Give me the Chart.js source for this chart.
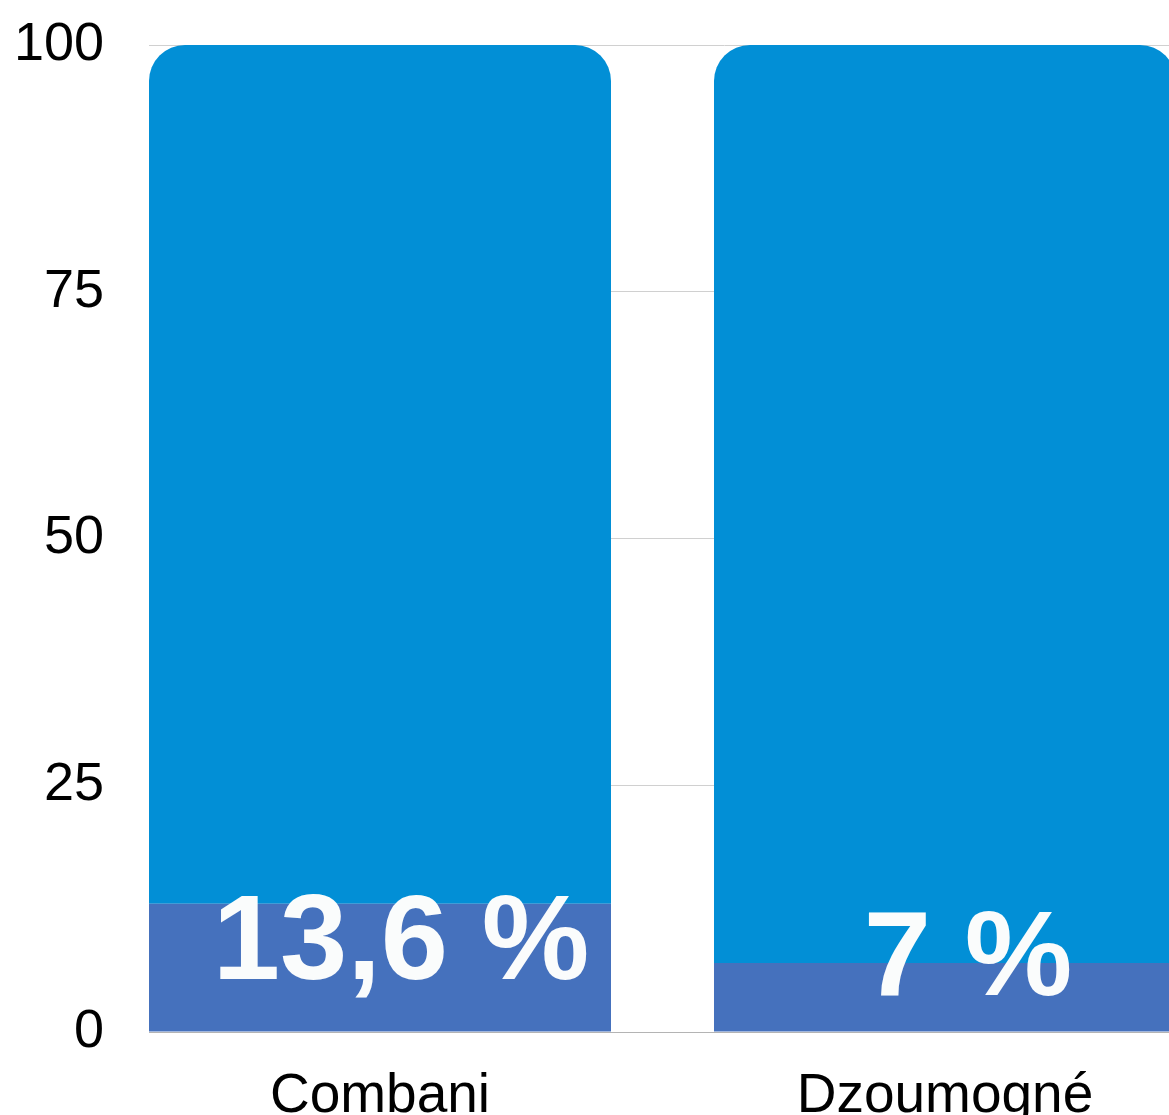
<!DOCTYPE html>
<html><head><meta charset="utf-8">
<script src="https://cdn.jsdelivr.net/npm/chart.js@4/dist/chart.umd.min.js"></script>
<style>
html,body{margin:0;padding:0;overflow:hidden;background:#fff;}
#wrap{width:1300px;height:1115px;position:relative;}
</style></head><body>
<div id="wrap"><canvas id="c" width="1300" height="1115"></canvas></div>
<script>
const categories = ['Combani', 'Dzoumogné'];
const lowerValues = [13, 7];
const upperValues = [87, 93];
const valueLabels = ['13,6 %', '7 %'];
const yTickValues = [0, 25, 50, 75, 100];

const xIndex = categories.map((_, i) => i);
const FONT = '"Liberation Sans", Arial, sans-serif';

const labelPlugin = {
  id: 'barLabels',
  afterDatasetsDraw(chart, args, opts) {
    const meta = chart.getDatasetMeta(0);
    const ctx = chart.ctx;
    ctx.save();
    ctx.font = 'bold 121px ' + FONT;
    ctx.fillStyle = '#FAFCFC';
    ctx.textAlign = 'center';
    ctx.textBaseline = 'alphabetic';
    meta.data.forEach((bar, i) => {
      ctx.fillText(valueLabels[i], bar.x + opts.dx[i], bar.base + opts.dy[i]);
    });
    ctx.restore();
  }
};

new Chart(document.getElementById('c'), {
  type: 'bar',
  data: {
    datasets: [
      {
        label: 'lower',
        data: xIndex.map(i => ({ x: i, y: lowerValues[i] })),
        backgroundColor: '#4571BD',
        borderWidth: 0,
        borderRadius: 0
      },
      {
        label: 'upper',
        data: xIndex.map(i => ({ x: i, y: upperValues[i] })),
        backgroundColor: '#028FD6',
        borderWidth: 0,
        borderSkipped: 'start',
        borderRadius: { topLeft: 36, topRight: 36, bottomLeft: 0, bottomRight: 0 }
      }
    ]
  },
  options: {
    responsive: false,
    animation: false,
    categoryPercentage: 1,
    barPercentage: 0.8177,
    layout: { padding: { top: 45, left: 0, right: 0, bottom: 0 } },
    plugins: {
      legend: { display: false },
      tooltip: { enabled: false },
      barLabels: { dx: [21, 23], dy: [-53, -37] }
    },
    scales: {
      x: {
        type: 'linear',
        stacked: true,
        offset: false,
        min: -0.40885,
        max: 1.62832,
        grid: { display: false },
        border: { display: true, color: '#b4b4b4', width: 1 },
        afterBuildTicks: s => { s.ticks = xIndex.map(v => ({ value: v })); },
        afterFit: s => { s.height = 83; s.paddingLeft = 0; s.paddingRight = 0; },
        ticks: {
          autoSkip: false,
          maxRotation: 0,
          padding: 24,
          color: '#000',
          font: { family: FONT, size: 55 },
          callback: v => categories[v] !== undefined ? categories[v] : ''
        }
      },
      y: {
        stacked: true,
        min: 0,
        max: 100,
        afterBuildTicks: s => { s.ticks = yTickValues.map(v => ({ value: v })); },
        afterFit: s => { s.width = 149; s.paddingTop = 0; s.paddingBottom = 0; },
        grid: { color: '#d0d0d0', lineWidth: 1, drawTicks: false },
        border: { display: false },
        ticks: {
          padding: 45,
          color: '#000',
          font: { family: FONT, size: 54 }
        }
      }
    }
  },
  plugins: [labelPlugin]
});
</script>
</body></html>
